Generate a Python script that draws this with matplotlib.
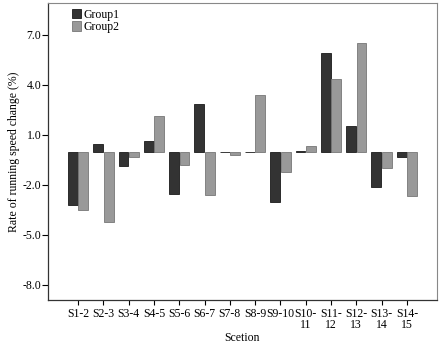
import matplotlib
matplotlib.use("Agg")
import matplotlib.pyplot as plt
import numpy as np

plt.rcParams['font.family'] = ['Liberation Serif', 'DejaVu Serif']

sections = ["S1-2", "S2-3", "S3-4", "S4-5", "S5-6", "S6-7", "S7-8", "S8-9", "S9-10",
            "S10-\n11", "S11-\n12", "S12-\n13", "S13-\n14", "S14-\n15"]
group1 = [-3.2, 0.44, -0.84, 0.64, -2.52, 2.84, -0.05, -0.05, -3.04, 0.04, 5.92, 1.52, -2.14, -0.34]
group2 = [-3.5, -4.24, -0.34, 2.16, -0.8, -2.58, -0.22, 3.38, -1.2, 0.36, 4.34, 6.54, -0.96, -2.64]
yticks = [-8.0, -5.0, -2.0, 1.0, 4.0, 7.0]

fig = plt.figure(figsize=(4.42, 3.43), dpi=100)
ax = fig.add_axes([0.1086, 0.1254, 0.88, 0.865])

x = np.arange(len(sections))
w = 0.39
ax.bar(x - w/2 - 0.01, group1, width=w, color='#333333', edgecolor='#1a1a1a', linewidth=0.6, label='Group1')
ax.bar(x + w/2 + 0.01, group2, width=w, color='#999999', edgecolor='#777777', linewidth=0.6, label='Group2')

ax.set_xlim(-1.19, len(sections) - 1 + 1.19)
ax.set_ylim(-8.9, 8.9)
ax.set_yticks(yticks)
ax.set_yticklabels([f"{v:.1f}" for v in yticks], fontsize=8.5)
ax.set_xticks(x)
ax.set_xticklabels(sections, fontsize=8.5, linespacing=0.9)
ax.tick_params(axis='y', direction='out', length=4, width=0.8, pad=0.8)
ax.tick_params(axis='x', direction='out', length=3.5, width=0.8, pad=2.5)

for s in ['top', 'right']:
    ax.spines[s].set_color('#888888')
    ax.spines[s].set_linewidth(0.8)
for s in ['left', 'bottom']:
    ax.spines[s].set_color('#333333')
    ax.spines[s].set_linewidth(0.9)

ax.set_ylabel("Rate of running speed change (%)", fontsize=8.5, labelpad=2)
ax.set_xlabel("Scetion", fontsize=8.5, labelpad=0.5)

leg = ax.legend(loc='upper left', bbox_to_anchor=(0.04, 1.01), frameon=False, fontsize=8.5,
                handlelength=0.8, handleheight=0.9, handletextpad=0.2, labelspacing=0.05,
                borderpad=0.2)

fig.savefig("out.png", dpi=100)
